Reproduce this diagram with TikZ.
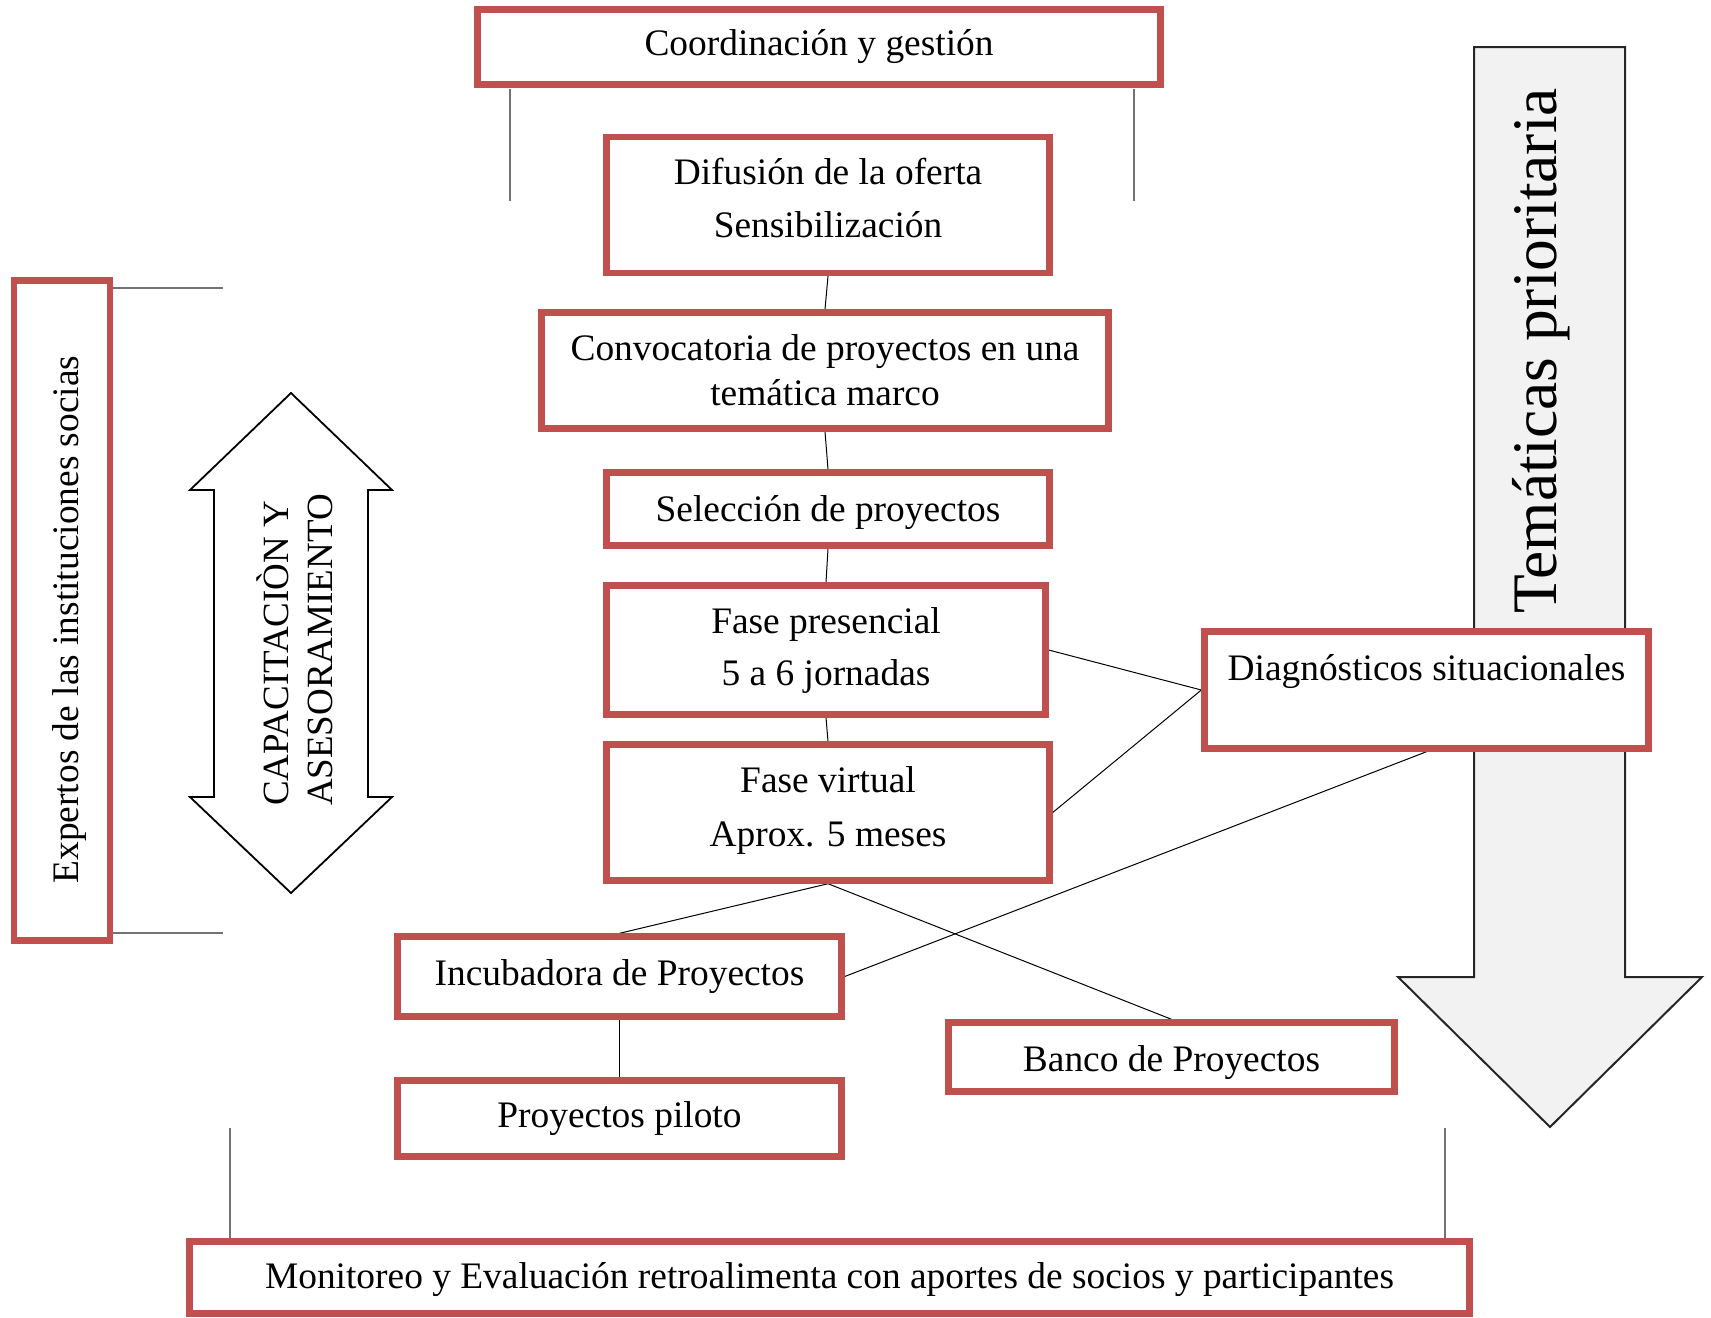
\documentclass[tikz,border=0pt]{standalone}
\usepackage{fontspec}
\setmainfont{Liberation Serif}
\usetikzlibrary{backgrounds}
\definecolor{boxred}{HTML}{C0504D}
\begin{document}
\begin{tikzpicture}[x=0.5pt,y=-0.5pt,
  box/.style={draw=boxred, line width=3.2pt, fill=white, inner sep=0pt, align=center,
    font=\fontsize{18.7}{22.5}\selectfont},
  txt/.style={font=\fontsize{18.7}{22.5}\selectfont, inner sep=0pt, align=center},
  conn/.style={black, line width=0.5pt},
  tick/.style={black!55, line width=0.7pt},
  bigarrow/.style={fill=black!5, draw=black!85, line width=1pt},
  dblarrow/.style={fill=white, draw=black, line width=0.9pt}]
\useasboundingbox (0,0) rectangle (1711,1317);

% big down arrow
\draw[bigarrow] (1474,47) -- (1625,47) -- (1625,977) -- (1702,977) -- (1550,1127)
  -- (1398,977) -- (1474,977) -- cycle;
\node[rotate=90, anchor=base, inner sep=0pt, font=\fontsize{31.7}{36}\selectfont] (tem) at (1556,351) {Temáticas prioritaria};

% double arrow
\draw[dblarrow] (291,393) -- (392,490) -- (368,490) -- (368,797) -- (392,797) -- (291,893)
  -- (190,797) -- (214,797) -- (214,490) -- (190,490) -- cycle;
\node[rotate=90, align=left, inner sep=0pt, font=\fontsize{18.5}{22}\selectfont] (cap) at (295,650) {CAPACITACIÒN Y\\ASESORAMIENTO};

% boxes
\node[box, minimum width=341.5pt, minimum height=37.5pt] (coord) at (819,47) {Coordinación y gestión};
\node[box, minimum width=221.5pt, minimum height=68pt,
  label={[txt, yshift=3.6pt]center:{Difusión de la oferta\\[4pt]Sensibilización}}] (dif) at (828,205) {};
\node[box, minimum width=283.5pt, minimum height=58pt] (conv) at (825,370.5) {Convocatoria de proyectos en una\\temática marco};
\node[box, minimum width=221.5pt, minimum height=36.5pt,
  label={[txt, yshift=-2pt]center:{Selección de proyectos}}] (sel) at (828,509) {};
\node[box, minimum width=219.5pt, minimum height=64.5pt] (pres) at (826,650) {Fase presencial\\[3.5pt]5 a 6 jornadas};
\node[box, minimum width=221.5pt, minimum height=68pt,
  label={[txt, yshift=1pt]center:{Fase virtual\\[4.5pt]Aprox. 5 meses}}] (virt) at (828,812.5) {};
\node[box, minimum width=222pt, minimum height=58.5pt,
  label={[txt, yshift=9pt]center:{Diagnósticos situacionales}}] (diag) at (1426.5,690) {};
\node[box, minimum width=222pt, minimum height=40pt] (incu) at (619.5,976.5) {Incubadora de Proyectos};
\node[box, minimum width=223pt, minimum height=34.5pt,
  label={[txt, yshift=-3pt]center:{Banco de Proyectos}}] (banco) at (1171.5,1057) {};
\node[box, minimum width=222pt, minimum height=38pt] (pil) at (619.5,1118.5) {Proyectos piloto};
\node[box, minimum width=640pt, minimum height=36pt,
  label={[txt, yshift=-1pt]center:{Monitoreo y Evaluación retroalimenta con aportes de socios y participantes}}] (mon) at (829.5,1277.5) {};
\node[box, minimum width=47.8pt, minimum height=330pt,
  label={[txt, rotate=90, xshift=-4.5pt, yshift=-3.75pt]center:{Expertos de las instituciones socias}}] (exp) at (62,610.5) {};

% free ends
\coordinate (c1a) at (510,89);  \coordinate (c1b) at (510,201);
\coordinate (c2a) at (1134,89); \coordinate (c2b) at (1134,201);
\coordinate (e1) at (223,288);  \coordinate (e2) at (223,933);
\coordinate (m1) at (230,1128); \coordinate (m2) at (1445,1128);

\begin{scope}[on background layer]
\draw[tick] (c1a) -- (c1b);
\draw[tick] (c2a) -- (c2b);
\draw[tick] (exp.east |- e1) -- (e1);
\draw[tick] (exp.east |- e2) -- (e2);
\draw[tick] (m1) -- (mon.north -| m1);
\draw[tick] (m2) -- (mon.north -| m2);

\draw[conn] (dif.south) -- (conv.north);
\draw[conn] (conv.south) -- (sel.north);
\draw[conn] (sel.south) -- (pres.north);
\draw[conn] (pres.south) -- (virt.north);
\draw[conn] (pres.east) -- (diag.west);
\draw[conn] (virt.east) -- (diag.west);
\draw[conn] (diag.south) -- (incu.east);
\draw[conn] (virt.south) -- (incu.north);
\draw[conn] (virt.south) -- (banco.north);
\draw[conn] (incu.south) -- (pil.north);
\end{scope}
\end{tikzpicture}
\end{document}
